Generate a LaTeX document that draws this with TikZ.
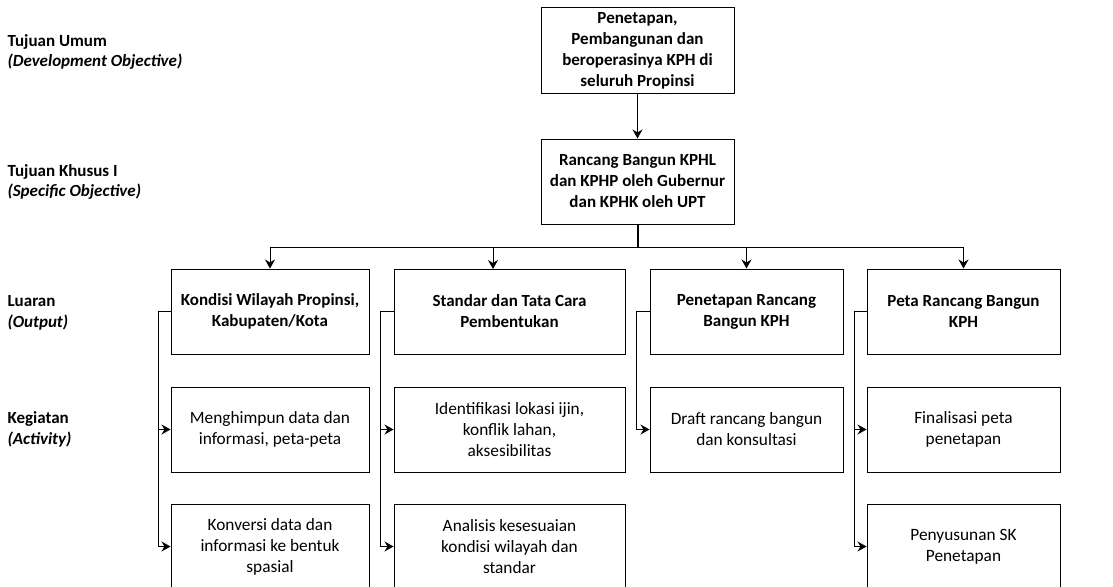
\documentclass[tikz,border=0pt]{standalone}
\usepackage{fontspec}
\setmainfont{Carlito}
\usetikzlibrary{arrows.meta,calc}
\begin{document}
\begin{tikzpicture}[x=1pt,y=-1pt,
  box/.style={draw,line width=1pt,align=center,inner sep=2pt,minimum height=85pt},
  head/.style={box,font=\bfseries\fontsize{17}{21}\selectfont},
  act/.style={box,font=\fontsize{17.3}{21}\selectfont},
  lab/.style={anchor=west,align=left,font=\bfseries\fontsize{17}{20.5}\selectfont},
  arr/.style={line width=1pt,-{Stealth[length=9pt,width=10pt,inset=3pt]}},
  ln/.style={line width=1pt}]
\useasboundingbox (0,0) rectangle (1113,586);
\clip (0,0) rectangle (1113,586);
% left labels
\node[lab] (l1) at (4,52) {Tujuan Umum\\ \textit{(Development Objective)}};
\node[lab] (l2) at (4,182) {Tujuan Khusus I\\ \textit{(Specific Objective)}};
\node[lab] (l3) at (4,313) {Luaran\\ \textit{(Output)}};
\node[lab] (l4) at (4,429.5) {Kegiatan\\ \textit{(Activity)}};
% top boxes
\node[head,minimum width=193pt] (g) at (637.5,50.5) {Penetapan,\\ Pembangunan dan\\ beroperasinya KPH di\\ seluruh Propinsi};
\node[head,minimum width=193pt] (s) at (637.5,181.5) {Rancang Bangun KPHL\\ dan KPHP oleh Gubernur\\ dan KPHK oleh UPT};
% outputs
\node[head,minimum width=198pt] (o1) at (270,311.5) {Kondisi Wilayah Propinsi,\\ Kabupaten/Kota};
\node[head,minimum width=231pt] (o2) at (509.5,311.5) {Standar dan Tata Cara\\ Pembentukan};
\node[head,minimum width=193pt] (o3) at (746.5,311.5) {Penetapan Rancang\\ Bangun KPH};
\node[head,minimum width=193pt] (o4) at (963.5,311.5) {Peta Rancang Bangun\\ KPH};
% activities
\node[act,minimum width=198pt] (a11) at (270,429.5) {Menghimpun data dan\\ informasi, peta-peta};
\node[act,minimum width=198pt] (a12) at (270,546.5) {Konversi data dan\\ informasi ke bentuk\\ spasial};
\node[act,minimum width=231pt] (a21) at (509.5,429.5) {Identifikasi lokasi ijin,\\ konflik lahan,\\ aksesibilitas};
\node[act,minimum width=231pt] (a22) at (509.5,546.5) {Analisis kesesuaian\\ kondisi wilayah dan\\ standar};
\node[act,minimum width=193pt] (a31) at (746.5,429.5) {Draft rancang bangun\\ dan konsultasi};
\node[act,minimum width=193pt] (a41) at (963.5,429.5) {Finalisasi peta\\ penetapan};
\node[act,minimum width=193pt] (a42) at (963.5,546.5) {Penyusunan SK\\ Penetapan};
% top connectors
\draw[arr] (g.south) -- (s.north);
\coordinate (bus) at (637.5,247);
\draw[line width=2pt] (s.south) -- (bus);
\draw[ln] (270,247) -- (964,247);
\draw[arr] (270,247) -- (o1.north);
\draw[arr] (493,247) -- (493,269);
\draw[arr] (746.5,247) -- (o3.north);
\draw[arr] (963.5,247) -- (o4.north);
% side connectors
\draw[arr] (o1.west) -- ++(-12,0) |- (a11.west);
\draw[arr] (o1.west) -- ++(-12,0) |- (a12.west);
\draw[arr] (o2.west) -- ++(-13,0) |- (a21.west);
\draw[arr] (o2.west) -- ++(-13,0) |- (a22.west);
\draw[arr] (o3.west) -- ++(-13,0) |- (a31.west);
\draw[arr] (o4.west) -- ++(-12,0) |- (a41.west);
\draw[arr] (o4.west) -- ++(-12,0) |- (a42.west);
\end{tikzpicture}
\end{document}
